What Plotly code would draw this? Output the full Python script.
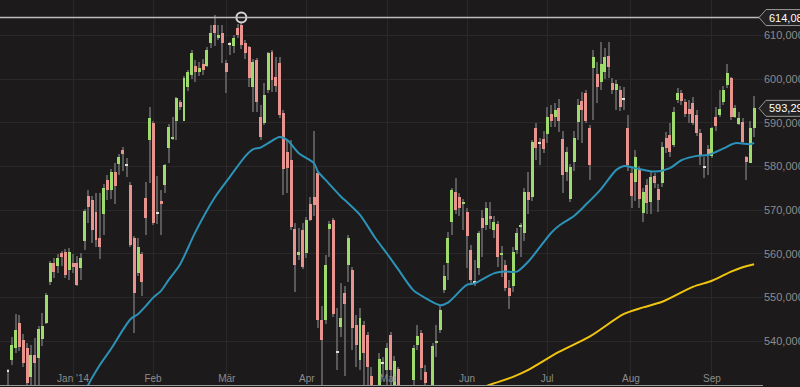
import numpy as np
import pandas as pd
import plotly.graph_objects as go

# ---------------- data (index values in thousands) ----------------
holidays = ["2013-12-24", "2013-12-25", "2013-12-26", "2013-12-31", "2014-01-01",
            "2014-04-18", "2014-04-21", "2014-05-01"]
dates = [d.strftime("%Y-%m-%d") for d in pd.bdate_range("2013-12-05", "2014-09-16")
         if d.strftime("%Y-%m-%d") not in holidays]

opens = [533.2, 535.6, 538.3, 544.1, 540.2, 538.4, 531.8, 536.8, 536.1, 540.5,
         544.2, 553.6, 557.9, 557.1, 560.2, 560.5, 556.3, 557.9, 557.8, 556.7,
         563.0, 573.3, 572.3, 569.6, 563.7, 569.2, 576.9, 574.6, 578.8, 580.5,
         583.7, 580.4, 575.7, 563.5, 555.5, 560.0, 572.7, 586.0, 589.9, 569.5,
         572.0, 575.7, 584.1, 586.2, 590.5, 594.8, 590.5, 598.1, 600.9, 603.0,
         601.7, 603.4, 603.0, 608.2, 612.4, 609.5, 610.5, 603.6, 608.1, 607.6,
         611.6, 612.4, 608.2, 607.4, 598.2, 604.4, 591.4, 589.9, 597.5, 606.3,
         600.4, 603.6, 592.3, 583.4, 581.5, 565.6, 559.7, 565.4, 560.1, 571.4,
         573.1, 578.4, 544.8, 544.8, 565.6, 567.7, 537.6, 543.3, 550.9, 557.4,
         556.3, 543.7, 535.6, 543.7, 541.4, 532.0, 528.0, 529.0, 535.0, 533.3,
         541.4, 530.0, 533.5, 528.0, 526.0, 529.0, 531.1, 539.1, 541.8, 533.0,
         529.0, 530.0, 539.7, 542.5, 551.7, 557.8, 567.3, 574.2, 573.1, 571.5,
         569.6, 560.8, 553.3, 556.7, 568.1, 566.6, 568.6, 565.4, 566.8, 559.9,
         557.4, 552.1, 552.5, 560.8, 566.2, 564.8, 574.2, 573.1, 588.9, 585.2,
         586.3, 587.4, 591.9, 591.4, 593.3, 586.3, 578.6, 572.6, 580.9, 590.2,
         595.0, 596.7, 588.9, 602.6, 601.1, 599.4, 601.7, 605.3, 599.2, 597.5,
         597.5, 595.3, 588.7, 578.4, 576.5, 579.2, 569.3, 575.7, 571.9, 577.7,
         574.8, 576.1, 586.4, 587.2, 584.9, 595.2, 596.7, 594.8, 593.1, 594.6,
         591.8, 587.6, 579.8, 584.0, 582.4, 591.4, 591.8, 594.8, 598.6, 600.2,
         591.4, 589.7, 590.2, 582.2, 580.7, 588.7]
highs = [533.5, 541.0, 546.3, 546.0, 541.5, 539.5, 539.0, 540.6, 543.5, 546.4,
         551.0, 558.3, 559.0, 560.0, 560.6, 561.0, 561.2, 560.0, 559.5, 560.2,
         570.3, 574.6, 573.2, 573.9, 573.9, 576.0, 578.0, 579.4, 580.8, 582.8,
         584.5, 582.0, 576.5, 564.0, 563.5, 560.5, 576.5, 593.7, 590.5, 577.7,
         574.5, 580.6, 589.6, 591.4, 596.0, 595.3, 600.6, 602.1, 606.6, 604.3,
         604.0, 604.5, 607.3, 612.4, 614.7, 612.4, 612.4, 604.3, 608.5, 610.2,
         612.5, 612.8, 609.0, 607.6, 604.5, 604.8, 594.0, 599.0, 606.3, 606.6,
         605.1, 605.1, 593.0, 586.0, 586.0, 567.0, 566.0, 567.0, 568.5, 573.0,
         588.0, 579.0, 548.0, 559.7, 567.5, 568.2, 547.5, 553.2, 552.5, 564.2,
         557.0, 546.0, 547.5, 544.5, 542.0, 534.0, 529.5, 537.2, 536.4, 539.5,
         542.1, 536.5, 534.1, 529.5, 529.6, 529.7, 539.0, 543.7, 542.5, 534.5,
         529.8, 539.5, 543.7, 548.2, 557.4, 565.0, 575.0, 577.3, 573.8, 572.5,
         570.5, 562.0, 558.6, 565.3, 570.0, 571.9, 571.9, 568.6, 567.5, 561.7,
         558.6, 554.0, 561.5, 566.0, 567.0, 575.0, 578.7, 586.0, 590.0, 586.5,
         588.0, 593.5, 594.0, 594.4, 595.4, 588.0, 584.5, 580.5, 588.2, 595.5,
         597.0, 597.4, 589.5, 606.6, 604.0, 608.5, 607.0, 608.5, 600.2, 599.7,
         598.5, 598.2, 591.8, 580.0, 583.7, 580.0, 575.0, 577.0, 579.0, 578.5,
         576.0, 585.5, 587.8, 589.9, 593.5, 598.0, 597.5, 595.5, 595.2, 596.0,
         593.0, 588.5, 582.2, 585.0, 589.0, 593.7, 597.6, 598.5, 603.4, 600.5,
         594.0, 592.5, 591.0, 582.4, 590.5, 596.1]
lows = [529.0, 534.5, 537.3, 537.8, 534.0, 528.0, 529.5, 530.0, 530.0, 538.9,
        543.9, 552.8, 554.4, 555.5, 557.1, 554.4, 553.9, 555.6, 552.5, 554.0,
        560.8, 567.0, 562.4, 561.6, 558.9, 564.3, 572.3, 572.6, 571.4, 578.0,
        579.0, 577.6, 561.5, 541.8, 555.0, 550.2, 564.3, 576.1, 566.5, 566.9,
        564.3, 574.0, 580.7, 586.0, 586.0, 593.0, 590.3, 597.3, 600.1, 599.4,
        600.6, 601.0, 602.7, 607.0, 607.5, 609.0, 603.6, 596.7, 605.5, 605.9,
        609.4, 606.9, 604.6, 598.2, 592.5, 592.5, 586.0, 589.5, 596.8, 597.0,
        597.0, 591.0, 573.4, 573.8, 565.5, 551.3, 558.6, 556.6, 559.0, 567.5,
        568.6, 543.0, 529.0, 544.0, 559.3, 545.5, 533.4, 541.0, 532.0, 553.5,
        538.0, 534.1, 533.4, 530.0, 529.0, 525.0, 522.0, 527.0, 531.8, 530.0,
        529.0, 528.0, 527.0, 523.0, 524.0, 525.0, 528.0, 537.9, 531.0, 528.0,
        525.0, 528.0, 536.4, 541.8, 551.0, 554.0, 564.3, 569.0, 568.6, 565.4,
        556.7, 553.4, 552.5, 555.1, 559.3, 565.4, 565.6, 563.5, 557.0, 554.7,
        551.4, 547.3, 551.3, 560.0, 559.3, 563.0, 569.2, 572.0, 581.5, 580.4,
        583.0, 585.4, 589.1, 589.1, 587.9, 573.8, 576.6, 571.9, 578.9, 586.0,
        585.3, 590.0, 576.9, 590.6, 594.4, 597.5, 600.0, 600.2, 596.5, 592.9,
        592.6, 592.8, 578.9, 570.4, 572.0, 570.4, 567.3, 569.0, 569.0, 575.0,
        569.6, 575.3, 583.0, 582.2, 584.5, 594.4, 594.1, 591.4, 589.9, 589.4,
        586.9, 580.3, 577.3, 578.0, 582.0, 588.0, 591.2, 594.0, 598.0, 590.6,
        591.0, 589.4, 585.2, 576.9, 580.7, 586.8]
closes = [533.0, 539.2, 542.5, 538.7, 534.9, 530.5, 536.8, 535.0, 542.7, 543.4,
          550.5, 557.9, 555.9, 559.0, 559.3, 555.1, 560.5, 557.0, 552.8, 559.0,
          569.8, 570.8, 565.4, 563.1, 561.6, 575.0, 574.6, 578.6, 575.4, 582.2,
          582.8, 580.2, 562.0, 550.9, 561.6, 553.6, 568.1, 591.0, 567.0, 569.3,
          571.6, 580.3, 589.1, 586.8, 595.6, 593.5, 600.2, 601.7, 605.9, 601.7,
          602.5, 602.1, 606.6, 610.5, 610.5, 610.2, 608.2, 601.7, 607.9, 609.5,
          610.1, 607.8, 606.0, 600.2, 604.0, 594.8, 586.8, 596.3, 605.9, 599.8,
          598.4, 591.8, 579.3, 579.6, 566.2, 557.4, 560.5, 557.0, 567.7, 567.7,
          571.2, 544.8, 540.2, 557.4, 566.8, 546.3, 537.4, 545.2, 548.5, 563.7,
          542.9, 539.1, 545.2, 537.2, 534.1, 528.5, 525.0, 535.9, 534.8, 538.3,
          533.3, 535.4, 530.0, 526.0, 529.0, 527.0, 538.3, 541.1, 533.8, 530.3,
          527.0, 538.8, 540.0, 547.1, 554.9, 563.5, 574.6, 570.0, 570.4, 571.8,
          564.1, 554.0, 553.5, 564.8, 565.8, 570.4, 568.0, 567.3, 559.3, 560.2,
          552.1, 550.2, 560.5, 564.8, 566.5, 574.2, 572.3, 585.6, 584.3, 585.4,
          584.0, 591.2, 590.4, 592.9, 590.5, 578.0, 583.4, 579.8, 586.5, 594.0,
          592.9, 590.5, 580.3, 605.0, 598.1, 603.4, 605.1, 602.7, 597.6, 598.9,
          593.5, 595.5, 580.3, 573.3, 582.2, 572.6, 574.2, 571.5, 577.6, 576.2,
          572.3, 584.5, 584.1, 583.4, 592.5, 596.9, 595.0, 592.1, 592.1, 589.9,
          587.6, 582.7, 580.0, 582.7, 588.7, 589.2, 593.1, 597.6, 601.4, 591.4,
          593.3, 591.0, 585.6, 581.1, 588.7, 593.29]

# moving averages (candle number, value in thousands)
ma_short_at = [19, 21, 24, 27, 30, 32, 34, 36, 38, 40, 42, 45, 49, 54, 58, 62, 64, 66,
               68, 71, 73, 76, 80, 81, 83, 87, 89, 92, 96, 99, 102, 106, 109, 113, 115,
               120, 122, 127, 130, 133, 136, 142, 144, 148, 151, 155, 159, 161, 164,
               169, 173, 176, 180, 183, 187, 190, 194, 195]
ma_short = [526.0, 530.0, 534.5, 538.3, 542.5, 545.0, 546.2, 548.0, 550.0, 551.5,
            554.0, 557.6, 565.0, 572.8, 577.6, 582.3, 583.9, 584.3, 585.3, 586.7,
            586.0, 583.0, 580.7, 578.8, 576.9, 573.1, 571.5, 568.9, 563.6, 560.1,
            556.4, 551.6, 549.9, 548.2, 548.8, 552.9, 553.2, 555.5, 555.9, 555.9,
            558.2, 564.8, 566.4, 568.7, 571.2, 574.8, 579.2, 580.1, 579.6, 578.8,
            579.6, 581.4, 582.4, 582.6, 584.1, 585.3, 585.1, 585.4]
ma_long_at = [122, 126, 132, 136, 144, 152, 161, 166, 171, 179, 184, 189, 192, 195]
ma_long = [528.6, 530.0, 531.8, 533.4, 537.5, 541.0, 546.2, 547.7, 549.0, 552.4,
           553.8, 555.9, 556.9, 557.6]

high_mark_value = 614.080
high_mark_at = 61
month_labels = ["Jan '14", "Feb", "Mär", "Apr", "Mai", "Jun", "Jul", "Aug", "Sep"]
month_pos = [17.0, 37.9, 57.2, 78.1, 99.3, 120.0, 140.9, 162.8, 184.0]
y_ticks = [540000, 550000, 560000, 570000, 580000, 590000, 600000, 610000]

# ---------------- build ----------------
n = len(closes)
o = np.array(opens) * 1000
h = np.array(highs) * 1000
l = np.array(lows) * 1000
c = np.array(closes) * 1000
x = np.arange(n)

BG = "#1c1a1a"
GREEN = "#9edb6c"
RED = "#e8938d"
DOJI = "#e4e1d2"
WICK = "#5a5a5a"

base = np.minimum(o, c)
height = np.maximum(np.abs(c - o), 300)
colors = [DOJI if abs(c[i] - o[i]) < 300 else (GREEN if c[i] > o[i] else RED) for i in range(n)]

fig = go.Figure()
# wicks (as thin bars so they stay underneath the bodies)
fig.add_trace(go.Bar(x=x, y=h - l, base=l, marker=dict(color=WICK, line=dict(width=0)),
                     width=0.27, showlegend=False, hoverinfo="skip"))
# bodies
fig.add_trace(go.Bar(x=x, y=height, base=base, marker=dict(color=colors, line=dict(width=0)),
                     width=0.78, showlegend=False,
                     customdata=dates[:n], hovertemplate="%{customdata}<extra></extra>"))
fig.add_trace(go.Scatter(x=ma_short_at, y=np.array(ma_short) * 1000, mode="lines",
                         line=dict(color="#2c92b8", width=2, shape="spline", smoothing=0.8),
                         showlegend=False, hoverinfo="skip"))
fig.add_trace(go.Scatter(x=ma_long_at, y=np.array(ma_long) * 1000, mode="lines",
                         line=dict(color="#f1c40f", width=2, shape="spline", smoothing=0.8),
                         showlegend=False, hoverinfo="skip"))

hv = high_mark_value * 1000
fig.add_shape(type="line", xref="paper", yref="y", x0=0, x1=1, y0=hv, y1=hv,
              line=dict(color="#bdbdbd", width=1.5))
fig.add_trace(go.Scatter(x=[high_mark_at], y=[hv], mode="markers",
                         marker=dict(size=10, color=BG, line=dict(color="#d6d6d6", width=2)),
                         showlegend=False, hoverinfo="skip"))

def price_tag(val, text):
    fig.add_shape(type="path", xref="paper", yref="y", xsizemode="pixel", ysizemode="pixel",
                  xanchor=1, yanchor=val,
                  path="M -4,0 L 3,-8 L 60,-8 L 60,8 L 3,8 Z",
                  fillcolor="#242222", line=dict(color="#9a9a9a", width=1), layer="above")
    fig.add_annotation(xref="paper", yref="y", x=1, y=val, xanchor="left", yanchor="middle",
                       xshift=4, text=text, showarrow=False,
                       font=dict(family="Liberation Sans, Arial", size=11, color="#ffffff"))

price_tag(hv, f"{hv:,.0f}")
price_tag(c[-1], f"{c[-1]:,.0f}")

x_lo = -2.09
x_hi = x_lo + 763 / 3.826
fig.update_layout(
    width=800, height=387,
    margin=dict(l=0, r=37, t=0, b=2),
    paper_bgcolor=BG, plot_bgcolor=BG,
    barmode="overlay", bargap=0,
    font=dict(family="Liberation Sans, Arial", size=10, color="#8c8c8c"),
    xaxis=dict(range=[x_lo, x_hi], tickvals=month_pos, ticktext=month_labels,
               ticklabelposition="inside", showgrid=True, gridcolor="#2a2828", gridwidth=1,
               zeroline=False, showline=True, linecolor="#9a9a9a", linewidth=1,
               ticks="", tickfont=dict(size=10, color="#8c8c8c"), fixedrange=True),
    yaxis=dict(range=[529930, 618100], side="right", tickvals=y_ticks, tickformat=",d",
               showgrid=True, gridcolor="#2a2828", gridwidth=1, zeroline=False,
               ticks="", automargin=False, tickfont=dict(size=11, color="#8c8c8c")),
    hovermode="closest",
)

fig.write_html("out.html", config={"displayModeBar": False},
               post_script="document.body.style.margin='0';document.body.style.background='#1c1a1a';")
